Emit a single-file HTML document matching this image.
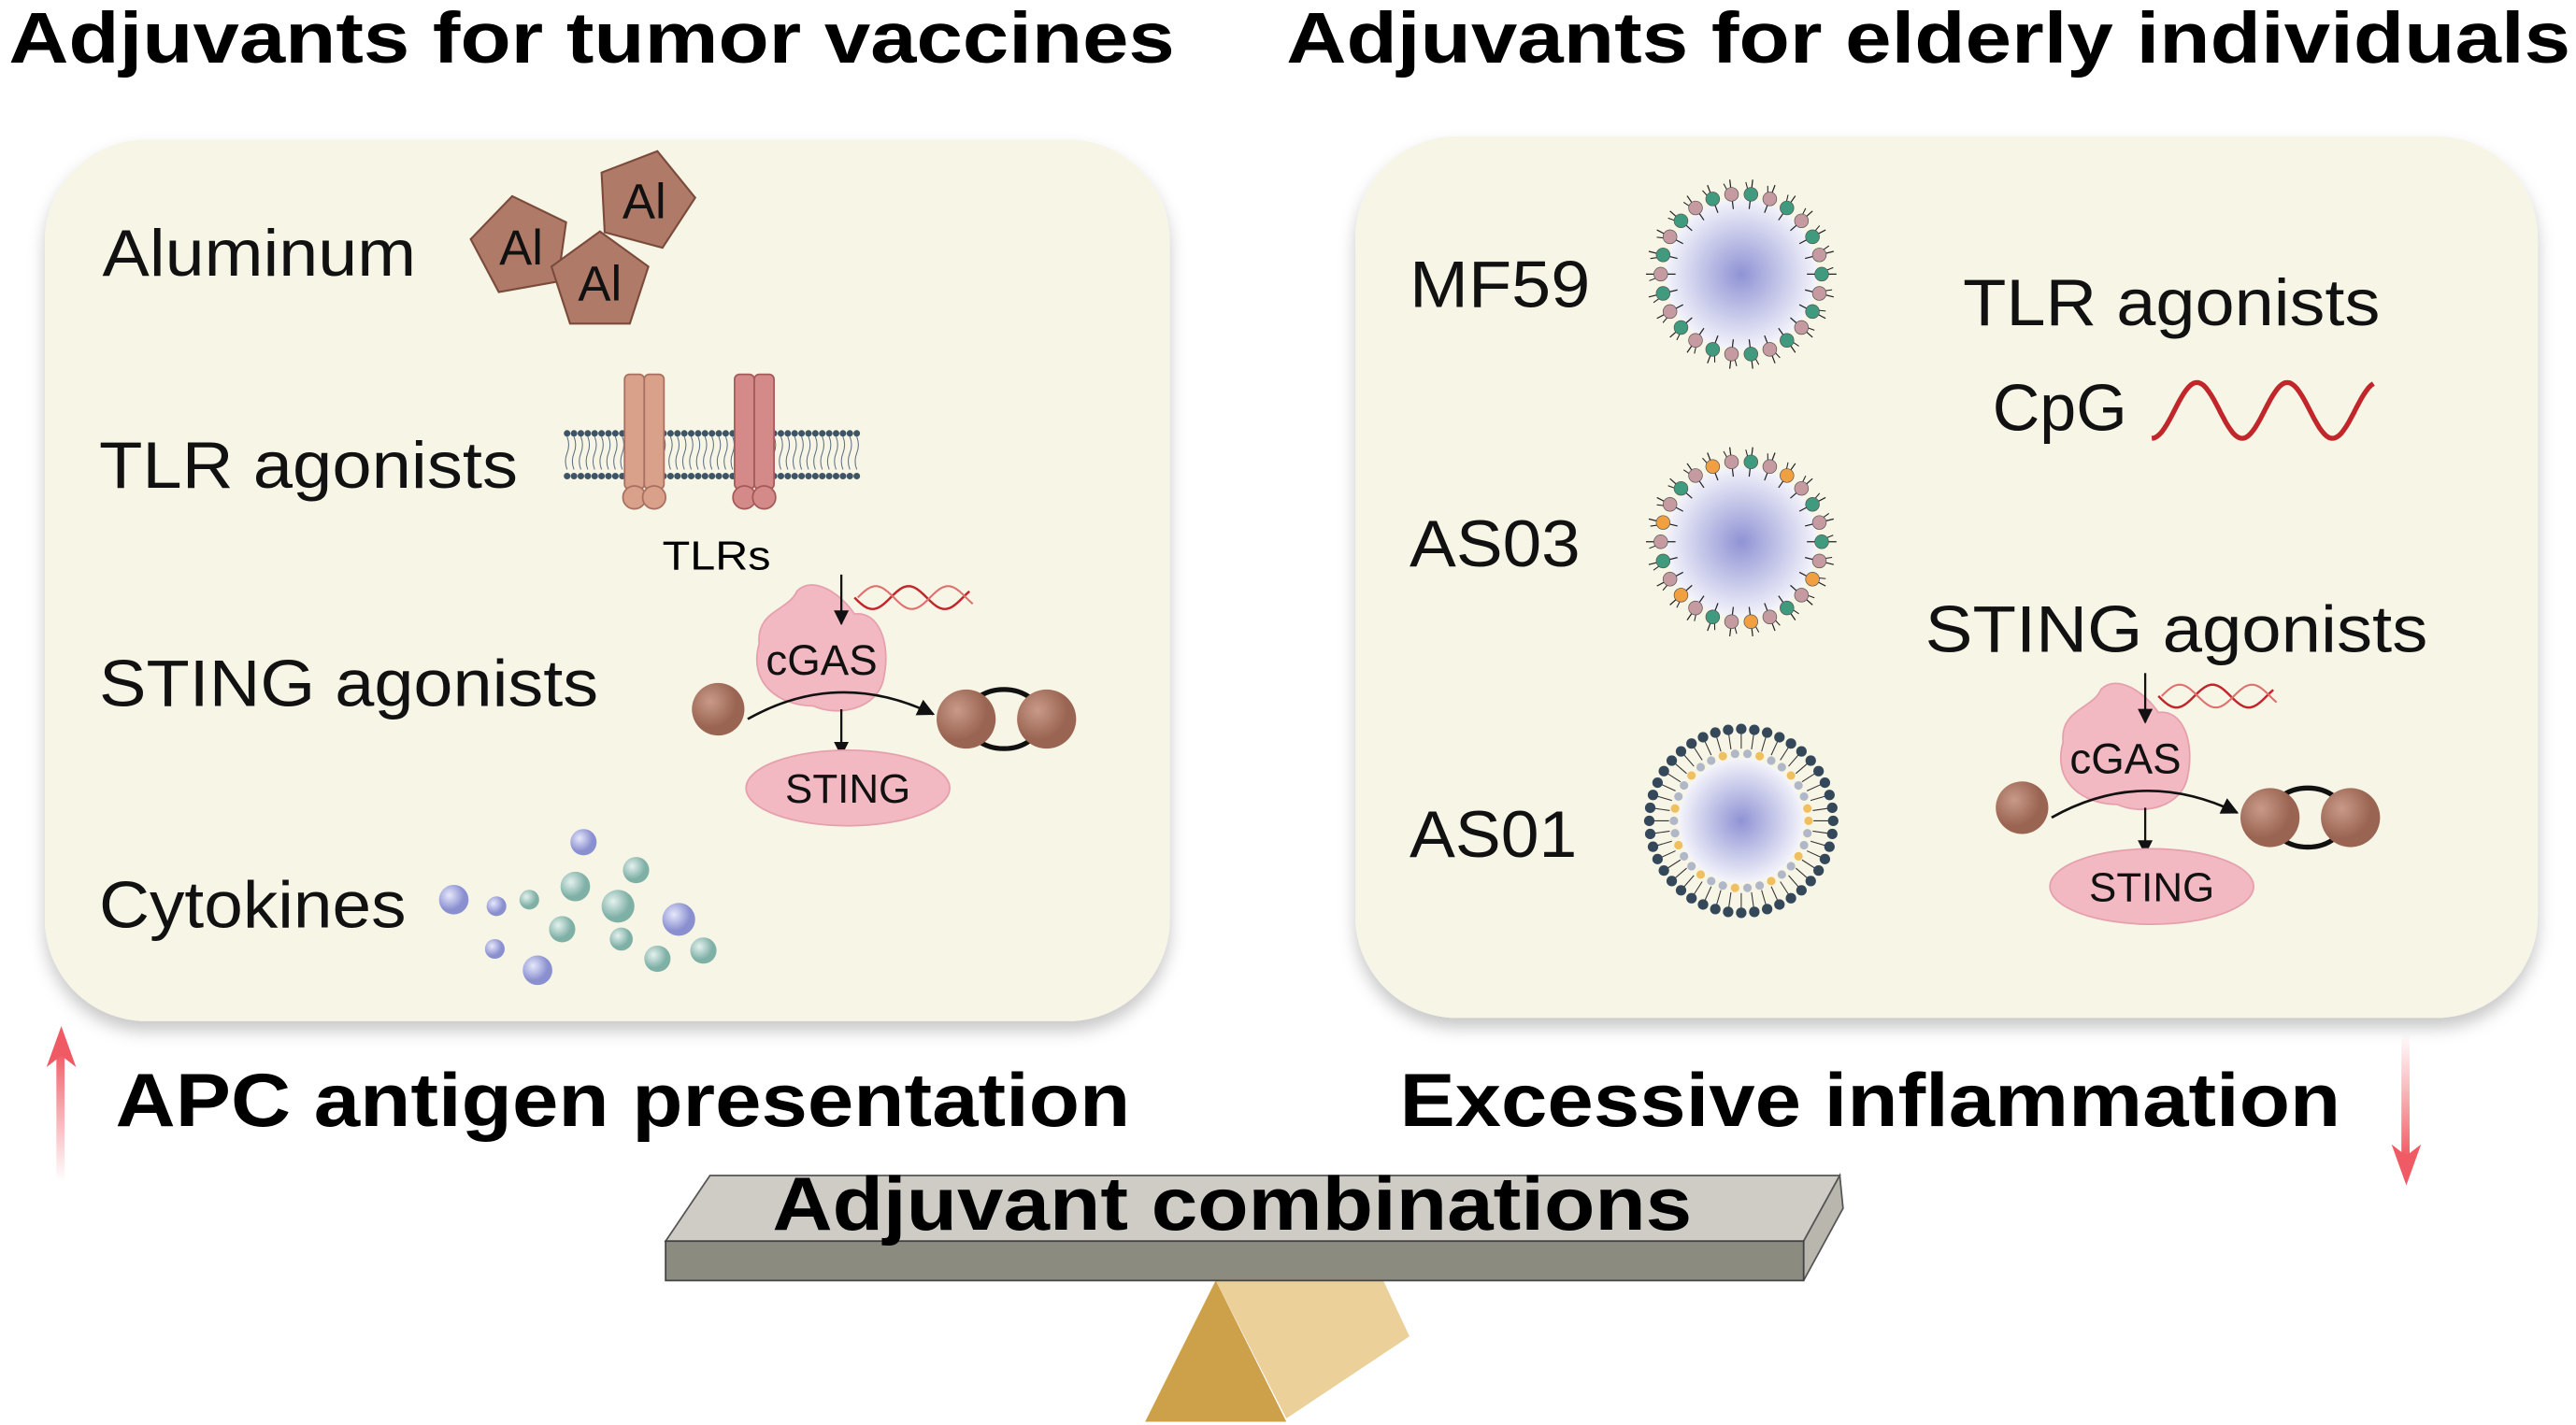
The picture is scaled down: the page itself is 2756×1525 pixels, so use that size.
<!DOCTYPE html>
<html><head><meta charset="utf-8"><style>
html,body{margin:0;padding:0;background:#fff;}
svg{display:block;}
text{font-family:"Liberation Sans",Arial,sans-serif;}
</style></head><body>
<svg id="s" width="2756" height="1525" viewBox="0 0 1568 868" xmlns="http://www.w3.org/2000/svg">
<defs>
<radialGradient id="core"><stop offset="0" stop-color="#8f93d4"/><stop offset="1" stop-color="#f4f4fb"/></radialGradient>
<radialGradient id="ball" cx="0.35" cy="0.35"><stop offset="0" stop-color="#c99a88"/><stop offset="1" stop-color="#9a6452"/></radialGradient>
<radialGradient id="cyB" cx="0.35" cy="0.35"><stop offset="0" stop-color="#e6e8fa"/><stop offset="1" stop-color="#8a8fd0"/></radialGradient>
<radialGradient id="cyG" cx="0.35" cy="0.35"><stop offset="0" stop-color="#e4f1ee"/><stop offset="1" stop-color="#7fb0a6"/></radialGradient>
<linearGradient id="up" x1="0" y1="1" x2="0" y2="0"><stop offset="0" stop-color="#f26a72" stop-opacity="0"/><stop offset="1" stop-color="#ef5a64"/></linearGradient>
<linearGradient id="down" x1="0" y1="0" x2="0" y2="1"><stop offset="0" stop-color="#f26a72" stop-opacity="0"/><stop offset="1" stop-color="#ef5a64"/></linearGradient>
<filter id="sh" x="-5%" y="-5%" width="110%" height="115%"><feDropShadow dx="0" dy="6" stdDeviation="5" flood-color="#000" flood-opacity="0.22"/></filter>
<marker id="ah" viewBox="0 0 10 10" refX="9" refY="5" markerWidth="7" markerHeight="7" orient="auto"><path d="M0,0 L10,5 L0,10 z" fill="#111"/></marker>
</defs>

<text x="5" y="38" font-size="44" font-weight="bold" textLength="710" lengthAdjust="spacingAndGlyphs">Adjuvants for tumor vaccines</text>
<text x="783" y="38" font-size="44" font-weight="bold" textLength="782" lengthAdjust="spacingAndGlyphs">Adjuvants for elderly individuals</text>

<rect x="27" y="85" width="685" height="537" rx="62" fill="#f7f5e6" filter="url(#sh)"/>
<rect x="825" y="83" width="720" height="537" rx="62" fill="#f7f5e6" filter="url(#sh)"/>

<g font-size="40" fill="#111">
<text x="62" y="168" textLength="191" lengthAdjust="spacingAndGlyphs">Aluminum</text>
<text x="60" y="297" textLength="255" lengthAdjust="spacingAndGlyphs">TLR agonists</text>
<text x="60" y="430" textLength="304" lengthAdjust="spacingAndGlyphs">STING agonists</text>
<text x="60" y="565" textLength="187" lengthAdjust="spacingAndGlyphs">Cytokines</text>
</g>
<g id="al"></g>
<g id="mem"></g>
<text x="403" y="347" font-size="25" textLength="66" lengthAdjust="spacingAndGlyphs">TLRs</text>
<g id="cgasL"></g>
<g id="cyto"></g>

<g font-size="40" fill="#111">
<text x="858" y="187" textLength="110" lengthAdjust="spacingAndGlyphs">MF59</text>
<text x="858" y="345" textLength="104" lengthAdjust="spacingAndGlyphs">AS03</text>
<text x="858" y="522" textLength="102" lengthAdjust="spacingAndGlyphs">AS01</text>
<text x="1195" y="198" textLength="254" lengthAdjust="spacingAndGlyphs">TLR agonists</text>
<text x="1213" y="262" textLength="82" lengthAdjust="spacingAndGlyphs">CpG</text>
<text x="1172" y="397" textLength="306" lengthAdjust="spacingAndGlyphs">STING agonists</text>
</g>
<path id="wave" d="" fill="none" stroke="#c0262a" stroke-width="3"/>
<g id="mic"></g>
<g id="cgasR"></g>

<rect x="34" y="640" width="5" height="80" fill="url(#up)"/>
<path d="M28,650 L37,625 L46,650 L37,643 z" fill="#ef5a64"/>
<rect x="1462" y="630" width="5" height="75" fill="url(#down)"/>
<path d="M1456,697 L1465,722 L1474,697 L1465,704 z" fill="#ef5a64"/>
<text x="70" y="686" font-size="46" font-weight="bold" textLength="618" lengthAdjust="spacingAndGlyphs">APC antigen presentation</text>
<text x="852" y="686" font-size="46" font-weight="bold" textLength="573" lengthAdjust="spacingAndGlyphs">Excessive inflammation</text>

<polygon points="740,780 697,866 783,866" fill="#cda04a"/>
<polygon points="740,780 842,780 858,814 783,864" fill="#ecd09a"/>
<polygon points="432,716 1120,716 1098,756 405,756" fill="#cfcbc5" stroke="#555" stroke-width="1"/>
<polygon points="1120,716 1122,736 1098,780 1098,756" fill="#b8b6ad" stroke="#555" stroke-width="1"/>
<rect x="405" y="756" width="693" height="24" fill="#8b8b80" stroke="#444" stroke-width="1"/>
<text x="470" y="749" font-size="46" font-weight="bold" textLength="560" lengthAdjust="spacingAndGlyphs">Adjuvant combinations</text>
</svg>
<script>
var NS="http://www.w3.org/2000/svg";
function el(p,t,a){var e=document.createElementNS(NS,t);for(var k in a)e.setAttribute(k,a[k]);p.appendChild(e);return e;}
// CpG wave
var wd='';for(var i=0;i<=135;i+=1.5){var x=1310+i;var y=250+17*Math.cos((i/55)*2*Math.PI);wd+=(i?'L':'M')+x.toFixed(1)+','+y.toFixed(1);}
document.getElementById('wave').setAttribute('d',wd);
var al=document.getElementById('al');
[[317,150,-10],[392,122,15],[365,172,0]].forEach(function(c){
 var pts=[];for(var i=0;i<5;i++){var a=(c[2]-90+72*i)*Math.PI/180;pts.push((c[0]+31*Math.cos(a)).toFixed(1)+","+(c[1]+31*Math.sin(a)).toFixed(1));}
 el(al,'polygon',{points:pts.join(' '),fill:'#b07a68',stroke:'#7a4a3a','stroke-width':1.2});
 var t=el(al,'text',{x:c[0],y:c[1]+11,'font-size':30,'text-anchor':'middle',fill:'#111'});t.textContent='Al';
});
var m=document.getElementById('mem');
for(var x=345;x<=522;x+=4.2){
 el(m,'circle',{cx:x,cy:264,r:2,fill:'#3d5566'});el(m,'circle',{cx:x,cy:290,r:2,fill:'#3d5566'});
 el(m,'path',{d:'M'+x+',266 q2,5 0,10 q-2,5 0,10',fill:'none',stroke:'#5d7080','stroke-width':0.6});
}
[[380,'#d9a08a','#a87060'],[447,'#d48a88','#a55a5a']].forEach(function(r){
 el(m,'rect',{x:r[0],y:228,width:12,height:70,rx:3,fill:r[1],stroke:r[2]});
 el(m,'rect',{x:r[0]+12,y:228,width:12,height:70,rx:3,fill:r[1],stroke:r[2]});
 el(m,'circle',{cx:r[0]+6,cy:303,r:7,fill:r[1],stroke:r[2]});
 el(m,'circle',{cx:r[0]+18,cy:303,r:7,fill:r[1],stroke:r[2]});
});
function cgas(g,cx,cy){
 el(g,'path',{d:'M'+(cx-38)+','+(cy-10)+' C'+(cx-40)+','+(cy-30)+' '+(cx-20)+','+(cy-30)+' '+(cx-15)+','+(cy-42)+' C'+(cx-5)+','+(cy-52)+' '+(cx+12)+','+(cy-40)+' '+(cx+20)+','+(cy-28)+' C'+(cx+35)+','+(cy-30)+' '+(cx+42)+','+(cy-10)+' '+(cx+38)+','+(cy+10)+' C'+(cx+35)+','+(cy+30)+' '+(cx+10)+','+(cy+35)+' '+(cx-5)+','+(cy+28)+' C'+(cx-25)+','+(cy+28)+' '+(cx-45)+','+(cy+15)+' '+(cx-38)+','+(cy-10)+' z',fill:'#f2b9c3',stroke:'#e5a0ae'});
 var t=el(g,'text',{x:cx,y:cy+9,'font-size':26,'text-anchor':'middle',fill:'#111'});t.textContent='cGAS';
 var ax=cx+12;
 el(g,'line',{x1:ax,y1:cy-52,x2:ax,y2:cy-22,stroke:'#111','stroke-width':1.3,'marker-end':'url(#ah)'});
 var d1='',d2='';for(var i=0;i<=70;i+=2){var x=ax+8+i;d1+=(i?'L':'M')+x+','+(cy-38+7*Math.sin(i/7));d2+=(i?'L':'M')+(x+2)+','+(cy-38-7*Math.sin(i/7));}
 el(g,'path',{d:d1,fill:'none',stroke:'#c0262a','stroke-width':1.4});el(g,'path',{d:d2,fill:'none',stroke:'#e07070','stroke-width':1.2});
 el(g,'circle',{cx:cx-63,cy:cy+30,r:16,fill:'url(#ball)'});
 el(g,'path',{d:'M'+(cx-45)+','+(cy+36)+' Q'+(cx+10)+','+(cy+5)+' '+(cx+68)+','+(cy+33),fill:'none',stroke:'#111','stroke-width':1.5,'marker-end':'url(#ah)'});
 el(g,'ellipse',{cx:cx+111,cy:cy+36,rx:23,ry:18,fill:'none',stroke:'#111','stroke-width':3});
 el(g,'circle',{cx:cx+88,cy:cy+36,r:18,fill:'url(#ball)'});
 el(g,'circle',{cx:cx+137,cy:cy+36,r:18,fill:'url(#ball)'});
 el(g,'line',{x1:ax,y1:cy+30,x2:ax,y2:cy+58,stroke:'#111','stroke-width':1.3,'marker-end':'url(#ah)'});
 el(g,'ellipse',{cx:cx+16,cy:cy+78,rx:62,ry:23,fill:'#f2b9c3',stroke:'#e5a0ae'});
 var s=el(g,'text',{x:cx+16,y:cy+87,'font-size':25,'text-anchor':'middle',fill:'#111'});s.textContent='STING';
}
cgas(document.getElementById('cgasL'),500,402);
cgas(document.getElementById('cgasR'),1294,462);
var cy=document.getElementById('cyto');
[[276,548,9,'B'],[302,552,6,'B'],[301,578,6,'B'],[322,548,6,'G'],[342,566,8,'G'],[350,540,9,'G'],[355,513,8,'B'],[327,591,9,'B'],[376,552,10,'G'],[387,530,8,'G'],[378,572,7,'G'],[413,560,10,'B'],[400,584,8,'G'],[428,579,8,'G']].forEach(function(c){
 el(cy,'circle',{cx:c[0],cy:c[1],r:c[2],fill:c[3]=='B'?'url(#cyB)':'url(#cyG)'});
});
var mc=document.getElementById('mic');
function micelle(cx,cy,cols,n){
 el(mc,'circle',{cx:cx,cy:cy,r:46,fill:'url(#core)'});
 for(var i=0;i<n;i++){var a=i*2*Math.PI/n,c=Math.cos(a),s=Math.sin(a);
  el(mc,'line',{x1:cx+40*c,y1:cy+40*s,x2:cx+58*c,y2:cy+58*s,stroke:'#222','stroke-width':0.7});
  el(mc,'line',{x1:cx+46*c,y1:cy+46*s,x2:cx+56*c+4*s,y2:cy+56*s-4*c,stroke:'#222','stroke-width':0.6});
  el(mc,'circle',{cx:cx+49*c,cy:cy+49*s,r:4.2,fill:cols[i%cols.length],stroke:'#555','stroke-width':0.4});}
}
micelle(1060,167,['#3f9a7e','#c59aa0'],26);
micelle(1060,330,['#3f9a7e','#c59aa0','#f0a040','#c59aa0'],26);
var lx=1060,ly=500;
el(mc,'circle',{cx:lx,cy:ly,r:38,fill:'url(#core)'});
for(var i=0;i<44;i++){var a=i*2*Math.PI/44,c=Math.cos(a),s=Math.sin(a);
 el(mc,'line',{x1:lx+44*c,y1:ly+44*s,x2:lx+54*c,y2:ly+54*s,stroke:'#333','stroke-width':0.6});
 el(mc,'circle',{cx:lx+56*c,cy:ly+56*s,r:3.2,fill:'#34485a'});
}
for(var i=0;i<34;i++){var a=i*2*Math.PI/34,c=Math.cos(a),s=Math.sin(a);
 el(mc,'circle',{cx:lx+41*c,cy:ly+41*s,r:2.6,fill:i%3==0?'#f0c060':'#b0b8c8'});
}
</script>
</body></html>
